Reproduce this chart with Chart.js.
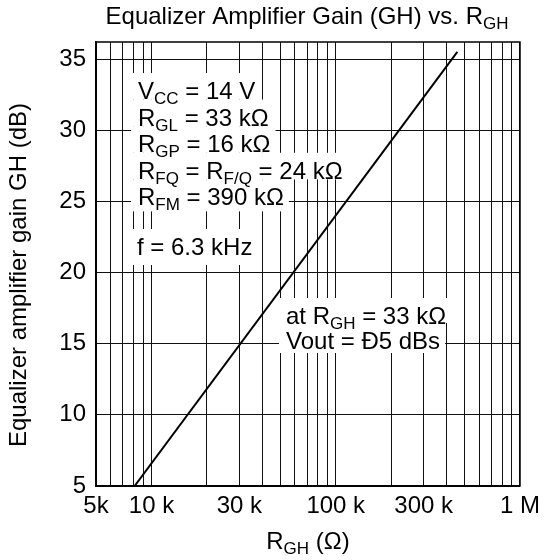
<!DOCTYPE html>
<html>
<head>
<meta charset="utf-8">
<script src="https://cdn.jsdelivr.net/npm/chart.js@4.4.1/dist/chart.umd.min.js"></script>
<style>
  html, body { margin: 0; padding: 0; background: #fff; }
  #wrap { width: 546px; height: 560px; }
</style>
</head>
<body>
<div id="wrap"><canvas id="chart" width="546" height="560"></canvas></div>
<script>
// data
const resistance = [8100, 457000];   // R_GH in ohms
const gain = [5, 35.5];              // GH in dB

const xGrid = [5000, 6000, 7000, 8000, 9000,
  10000, 20000, 30000, 40000, 50000, 60000, 70000, 80000, 90000,
  100000, 200000, 300000, 400000, 500000, 600000, 700000, 800000, 900000,
  1000000];
const xTickLabels = { 5000: '5k', 10000: '10 k', 30000: '30 k', 100000: '100 k', 300000: '300 k', 1000000: '1 M' };
const yTicks = [5, 10, 15, 20, 25, 30, 35];

const FONT = '"Liberation Sans", Arial, Helvetica, sans-serif';
const MAIN = 24;
const SUB = 17;

// text lines: arrays of [text, isSubscript]
const notesTop = [
  [['V', 0], ['CC', 1], [' = 14 V', 0]],
  [['R', 0], ['GL', 1], [' = 33 k\u03A9', 0]],
  [['R', 0], ['GP', 1], [' = 16 k\u03A9', 0]],
  [['R', 0], ['FQ', 1], [' = R', 0], ['F/Q', 1], [' = 24 k\u03A9', 0]],
  [['R', 0], ['FM', 1], [' = 390 k\u03A9', 0]]
];
const noteFreq = [['f = 6.3 kHz', 0]];
const notesAt = [
  [['at R', 0], ['GH', 1], [' = 33 k\u03A9', 0]],
  [['Vout = \u00D05 dBs', 0]]
];

function richWidth(ctx, parts, size, sub) {
  let w = 0;
  parts.forEach(([t, s]) => {
    ctx.font = `${s ? sub : size}px ${FONT}`;
    w += ctx.measureText(t).width;
  });
  return w;
}

function drawRich(ctx, parts, x, y, size, sub, align) {
  const w = richWidth(ctx, parts, size, sub);
  let cx = align === 'center' ? x - w / 2 : x;
  ctx.textBaseline = 'alphabetic';
  ctx.textAlign = 'left';
  ctx.fillStyle = '#000';
  parts.forEach(([t, s]) => {
    ctx.font = `${s ? sub : size}px ${FONT}`;
    ctx.fillText(t, cx, s ? y + 5 : y);
    cx += ctx.measureText(t).width;
  });
  return w;
}

function drawNoteBlock(ctx, lines, x, y0, step, below) {
  // white boxes behind each line, then the text
  ctx.fillStyle = '#fff';
  lines.forEach((parts, i) => {
    const w = richWidth(ctx, parts, MAIN, SUB);
    const top = y0 + i * step - 26;
    const h = i === lines.length - 1 ? 26 + below : step;
    ctx.fillRect(x - 7, top, w + 12, h);
  });
  lines.forEach((parts, i) => drawRich(ctx, parts, x, y0 + i * step, MAIN, SUB, 'left'));
}

const decor = {
  id: 'decor',
  beforeDatasetsDraw(chart) {
    const ctx = chart.ctx;
    ctx.save();
    drawNoteBlock(ctx, notesTop, 138, 99, 26.6, 6);
    drawNoteBlock(ctx, [noteFreq], 137, 255, 26, 10);
    drawNoteBlock(ctx, notesAt, 286, 324, 25, 4);
    ctx.restore();
  },
  afterDraw(chart) {
    const ctx = chart.ctx;
    const a = chart.chartArea;
    ctx.save();
    ctx.strokeStyle = '#000';
    ctx.lineWidth = 1.5;
    ctx.strokeRect(a.left, a.top, a.right - a.left, a.bottom - a.top);

    drawRich(ctx, [['Equalizer Amplifier Gain (GH) vs. R', 0], ['GH', 1]], 307, 24, 24, 17, 'center');
    drawRich(ctx, [['R', 0], ['GH', 1], [' (\u03A9)', 0]], 308, 549, 24, 17, 'center');

    ctx.translate(26, 275);
    ctx.rotate(-Math.PI / 2);
    drawRich(ctx, [['Equalizer amplifier gain GH (dB)', 0]], 0, 0, 24, 17, 'center');
    ctx.restore();
  }
};

new Chart(document.getElementById('chart'), {
  type: 'line',
  data: {
    datasets: [{
      data: resistance.map((r, i) => ({ x: r, y: gain[i] })),
      borderColor: '#000',
      borderWidth: 2,
      pointRadius: 0,
      tension: 0
    }]
  },
  options: {
    responsive: false,
    animation: false,
    layout: { padding: { left: 0, top: 42, right: 20, bottom: 0 } },
    plugins: { legend: { display: false }, tooltip: { enabled: false } },
    scales: {
      x: {
        type: 'logarithmic',
        min: 5000,
        max: 1000000,
        afterBuildTicks: s => { s.ticks = xGrid.map(v => ({ value: v })); },
        afterFit: s => { s.height = 74; },
        grid: { color: '#111', lineWidth: 1, drawTicks: false },
        border: { color: '#000', width: 1.5 },
        ticks: {
          autoSkip: false,
          maxRotation: 0,
          padding: 6,
          color: '#000',
          font: { family: FONT, size: 24 },
          callback: v => xTickLabels[v] || ''
        }
      },
      y: {
        min: 5,
        max: 36.2,
        afterBuildTicks: s => { s.ticks = yTicks.map(v => ({ value: v })); },
        afterFit: s => { s.width = 96; },
        grid: { color: '#111', lineWidth: 1, drawTicks: false },
        border: { color: '#000', width: 1.5 },
        ticks: {
          padding: 10,
          color: '#000',
          font: { family: FONT, size: 24 }
        }
      }
    }
  },
  plugins: [decor]
});
</script>
</body>
</html>
